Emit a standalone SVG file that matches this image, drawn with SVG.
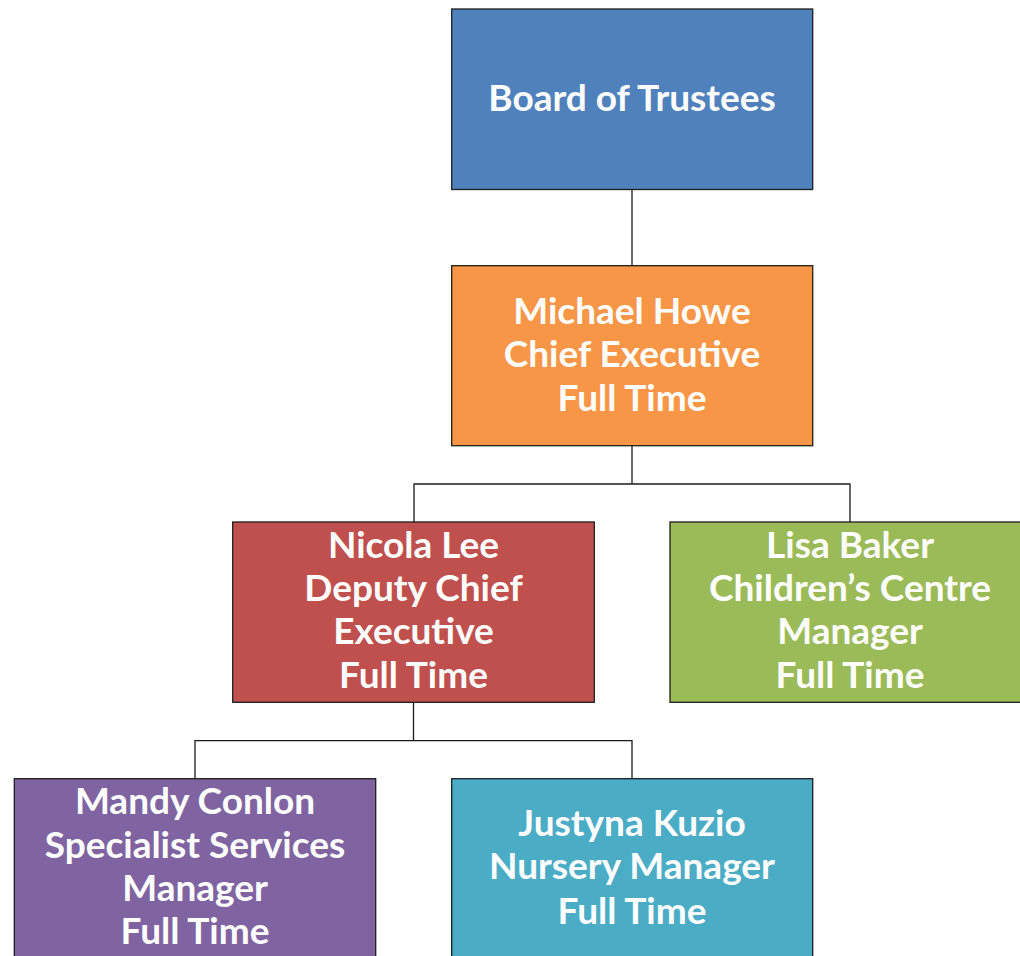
<svg xmlns="http://www.w3.org/2000/svg" width="1020" height="956" viewBox="0 0 1020 956">
<style>
.box{stroke:#1e1e1e;stroke-width:1.3}
.t{font-family:Lato,"Open Sans","Liberation Sans",sans-serif;font-weight:bold;font-size:37px;fill:#ffffff;text-anchor:middle}
.c{fill:none;stroke:#1a1a1a;stroke-width:1.3}
</style>
<rect width="1020" height="956" fill="#ffffff"/>
<g id="connectors">
<path class="c" d="M632,189.5 V265.7"/>
<path class="c" d="M632,445.7 V484 M414,522 V484 H850 V522"/>
<path class="c" d="M413.5,702.3 V740.7 M195,778.7 V740.7 H632 V778.7"/>
</g>
<g id="board">
<rect class="box" x="451.7" y="9" width="361" height="180.5" fill="#4F81BD"/>
<text class="t" x="632" y="111">Board of Trustees</text>
</g>
<g id="michael">
<rect class="box" x="451.7" y="265.7" width="361" height="180" fill="#F79646"/>
<text class="t" x="632" y="323.5">Michael Howe</text>
<text class="t" x="632" y="367">Chief Executive</text>
<text class="t" x="632" y="411">Full Time</text>
</g>
<g id="nicola">
<rect class="box" x="232.7" y="522" width="361.6" height="180.3" fill="#C0504D"/>
<text class="t" x="413.5" y="557.5">Nicola Lee</text>
<text class="t" x="413.5" y="601">Deputy Chief</text>
<text class="t" x="413.5" y="644.3">Executive</text>
<text class="t" x="413.5" y="687.7">Full Time</text>
</g>
<g id="lisa">
<rect class="box" x="670" y="522" width="361" height="180.3" fill="#9BBB59"/>
<text class="t" x="850" y="557.5">Lisa Baker</text>
<text class="t" x="850" y="601">Children’s Centre</text>
<text class="t" x="850" y="644.3">Manager</text>
<text class="t" x="850" y="687.7">Full Time</text>
</g>
<g id="mandy">
<rect class="box" x="14.3" y="778.7" width="361.4" height="180" fill="#8064A2"/>
<text class="t" x="195" y="813.5">Mandy Conlon</text>
<text class="t" x="195" y="857.5">Specialist Services</text>
<text class="t" x="195" y="901">Manager</text>
<text class="t" x="195" y="944">Full Time</text>
</g>
<g id="justyna">
<rect class="box" x="451.7" y="778.7" width="361" height="180" fill="#4BACC6"/>
<text class="t" x="632" y="836">Justyna Kuzio</text>
<text class="t" x="632" y="879.3">Nursery Manager</text>
<text class="t" x="632" y="923.5">Full Time</text>
</g>
</svg>
